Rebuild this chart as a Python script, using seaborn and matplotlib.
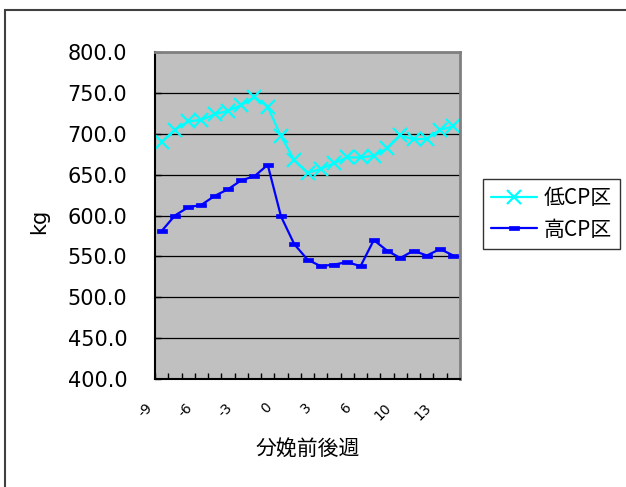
import matplotlib
matplotlib.use("Agg")
import matplotlib.pyplot as plt
import matplotlib.transforms as mtransforms
from matplotlib.patches import Rectangle
from matplotlib.lines import Line2D
from matplotlib.path import Path
import pandas as pd
import seaborn as sns

# Weeks relative to calving (category axis)
weeks = list(range(-9, 7)) + [7, 8, 10, 11, 12, 13, 14]

# Body weight (kg) per group
low_cp = [690, 705, 715, 717, 724, 728, 735, 745, 733, 697, 668, 652,
          657, 664, 671, 671, 673, 682, 698, 693, 694, 705, 709]
high_cp = [581, 600, 610, 613, 624, 632, 643, 648, 662, 599, 565, 546,
           538, 540, 543, 538, 570, 557, 548, 557, 551, 559, 551]

series_names = ["低CP区", "高CP区"]
series_colors = ["#00FFFF", "#0000FF"]
y_ticks = [400, 450, 500, 550, 600, 650, 700, 750, 800]

sns.set_theme(style="white")
plt.rcParams["font.family"] = ["DejaVu Sans", "Noto Sans CJK JP"]
plt.rcParams.update({"text.color": "black", "axes.labelcolor": "black",
                     "xtick.color": "black", "ytick.color": "black"})

n = len(weeks)
df = pd.DataFrame({
    "pos": list(range(n)) * 2,
    "週": weeks * 2,
    "kg": low_cp + high_cp,
    "区": [series_names[0]] * n + [series_names[1]] * n,
})

W, H = 626, 487
fig = plt.figure(figsize=(W / 100, H / 100), dpi=100)
ax = fig.add_axes([155 / W, 1 - 379 / H, (460 - 155) / W, (379 - 52) / H])
ax.set_facecolor("#C0C0C0")
ax.set_axisbelow(True)

# small flat rectangle marker for the second series
rect_marker = Path([(-1, -0.45), (1, -0.45), (1, 0.45), (-1, 0.45), (-1, -0.45)],
                   [Path.MOVETO, Path.LINETO, Path.LINETO, Path.LINETO, Path.CLOSEPOLY])

styles = {
    series_names[0]: dict(marker="x", markersize=10, markeredgewidth=1.6),
    series_names[1]: dict(marker=rect_marker, markersize=7, markeredgewidth=0.5),
}

for name, color in zip(series_names, series_colors):
    sub = df[df["区"] == name]
    sns.lineplot(data=sub, x="pos", y="kg", ax=ax, color=color, linewidth=1.6,
                 markeredgecolor=color, markerfacecolor=color, legend=False,
                 errorbar=None, sort=False, **styles[name])

ax.set_xlim(-0.5, n - 0.5)
ax.set_ylim(400, 800)
ax.set_yticks(y_ticks)
ax.set_yticklabels([f"{v:.1f}" for v in y_ticks])
ax.yaxis.grid(True, color="black", linewidth=0.9)
ax.xaxis.grid(False)

label_idx = list(range(0, n, 3))
ax.set_xticks(label_idx)
ax.set_xticklabels([str(weeks[i]) for i in label_idx], rotation=45,
                   ha="right", va="center", rotation_mode="anchor", fontsize=10)
ax.set_xticks([i - 0.5 for i in range(n + 1)], minor=True)
ax.tick_params(axis="x", which="major", length=0, pad=19, bottom=True)
ax.tick_params(axis="x", which="minor", direction="in", length=4, width=1,
               color="black", bottom=True)
ax.tick_params(axis="y", direction="in", length=4, width=1, color="black",
               left=True, labelsize=15, pad=20)
shift = mtransforms.ScaledTranslation(-0.11, 0, fig.dpi_scale_trans)
for lab in ax.get_xticklabels():
    lab.set_transform(lab.get_transform() + shift)

for side in ("left", "bottom"):
    ax.spines[side].set_color("black")
    ax.spines[side].set_linewidth(1.5)
for side in ("top", "right"):
    ax.spines[side].set_color("#808080")
    ax.spines[side].set_linewidth(2)

ax.set_xlabel("分娩前後週", fontsize=15, family=["Noto Sans CJK JP", "DejaVu Sans"])
ax.xaxis.set_label_coords(0.5, -(438 - 379) / (379 - 52))
ax.set_ylabel("kg", fontsize=15)
ax.yaxis.set_label_coords(-(155 - 49) / (460 - 155), (379 - 221) / (379 - 52))

handles = [
    Line2D([], [], color=c, linewidth=1.6, markeredgecolor=c, markerfacecolor=c,
           **styles[nm])
    for nm, c in zip(series_names, series_colors)
]
leg = ax.legend(handles, series_names, loc="upper left",
                bbox_to_anchor=(483 / W, 1 - 179 / H), bbox_transform=fig.transFigure,
                borderaxespad=0, frameon=True, fancybox=False, shadow=False,
                handlelength=2.2, handletextpad=0.3, labelspacing=0.45,
                borderpad=0.4, prop={"family": ["Noto Sans CJK JP", "DejaVu Sans"], "size": 15})
leg.get_frame().set_edgecolor("black")
leg.get_frame().set_linewidth(1.0)

# outer chart border
fig.patches.append(Rectangle((5 / W, -0.5), 2, (1 - 10 / H) + 0.5,
                             transform=fig.transFigure, fill=False,
                             edgecolor="#404040", linewidth=1.5))

fig.savefig("out.png", dpi=100)
